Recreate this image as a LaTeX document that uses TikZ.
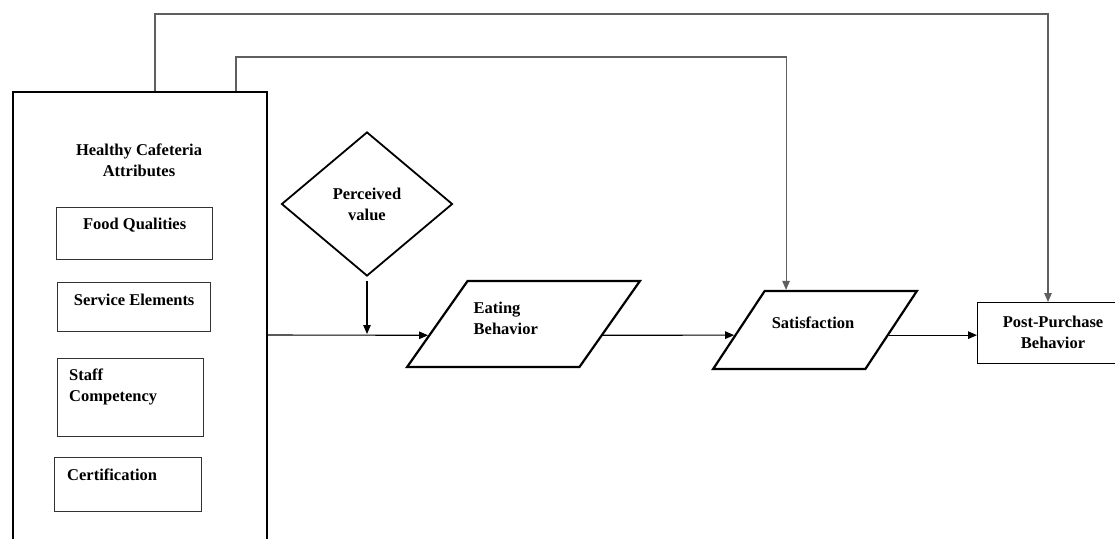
\documentclass[tikz,border=0pt]{standalone}
\usepackage{fontspec}
\setmainfont{Liberation Serif}
\usepackage{tikz}
\definecolor{framegray}{RGB}{51, 51, 51}
\definecolor{feedgray}{RGB}{95, 95, 95}
\usetikzlibrary{shapes.geometric, arrows.meta, calc}

\begin{document}
\begin{tikzpicture}[
    x=1pt, y=-1pt,
    font=\fontsize{16.5}{21}\selectfont\bfseries,
    bigbox/.style={rectangle, draw=black, line width=2.2pt, inner sep=0pt, anchor=north west},
    attrbox/.style={rectangle, draw=framegray, line width=1.3pt, inner sep=0pt, anchor=north west},
    txt/.style={inner sep=0pt, align=center},
    value/.style={diamond, draw=black, line width=1.8pt, minimum width=171pt,
                  minimum height=144pt, inner sep=0pt, align=center},
    para/.style={trapezium, trapezium stretches=true, draw=black, line width=2.2pt, inner sep=4pt},
    outbox/.style={rectangle, draw=black, line width=1.3pt, inner sep=0pt, anchor=north west},
    arrow/.style={-{Triangle[length=9pt, width=7.5pt]}, line width=1.1pt, black},
    feed/.style={arrow, draw=feedgray}
]
    \useasboundingbox (0,0) rectangle (1115,538);

    % Attributes
    \node[bigbox, minimum width=254, minimum height=480] (hca) at (12,91) {};
    \node[txt] (hca-title) at (139,160) {Healthy Cafeteria\\Attributes};
    \node[attrbox, minimum width=156, minimum height=52] (food) at (56,207) {};
    \node[attrbox, minimum width=153, minimum height=49] (service) at (57,282) {};
    \node[attrbox, minimum width=146, minimum height=78] (staff) at (57,358) {};
    \node[attrbox, minimum width=147, minimum height=54] (cert) at (54,457) {};
    \node[txt] (food-txt) at ([yshift=-18]food.north) {Food Qualities};
    \node[txt] (service-txt) at ([yshift=-18]service.north) {Service Elements};
    \node[txt, align=left, anchor=west] (staff-txt) at ([xshift=12, yshift=-29]staff.north west) {Staff\\Competency};
    \node[txt, anchor=west] (cert-txt) at ([xshift=13, yshift=-18]cert.north west) {Certification};

    % Flow
    \node[value] (pv) at (367,204) {Perceived\\value};
    \node[para, trapezium left angle=61.6, trapezium right angle=118.4,
          minimum width=233, minimum height=86] (eating) at (523.5,324) {};
    \node[txt, align=left, anchor=west] (eating-txt) at ([xshift=-50, yshift=6]eating.center) {Eating\\Behavior};
    \node[para, trapezium left angle=62.9, trapezium right angle=117.1,
          minimum width=204, minimum height=78] (sat) at (815,330) {};
    \node[txt] (sat-txt) at ([xshift=-2, yshift=7]sat.center) {Satisfaction};
    \node[outbox, minimum width=300, minimum height=61] (post) at (977,302) {};
    \node[txt] (post-txt) at ([xshift=76, yshift=1]post.west) {Post-Purchase\\Behavior};

    % Arrows
    \coordinate (join) at (367,335);
    \coordinate (eat-in) at ($(eating.bottom left corner)!0.372!(eating.top left corner)$);
    \coordinate (eat-out) at ($(eating.bottom right corner)!0.372!(eating.top right corner)$);
    \coordinate (sat-in) at ($(sat.bottom left corner)!0.436!(sat.top left corner)$);
    \coordinate (sat-out) at ($(sat.bottom right corner)!0.436!(sat.top right corner)$);
    \draw[arrow] (join -| hca.east) -- (eat-in);
    \draw[arrow, shorten <=4pt, shorten >=1pt] (pv.south) -- (pv.south |- join);
    \draw[arrow] (eat-out) -- (sat-in);
    \draw[arrow] (sat-out) -- (sat-out -| post.west);

    % Direct links
    \coordinate (outer) at (155,14);
    \coordinate (inner) at (236,57);
    \draw[feed] (outer |- hca.north) -- (outer) -| (1048,0 |- post.north);
    \draw[feed] (inner |- hca.north) -- (inner) -| ([xshift=22]sat.top left corner);
\end{tikzpicture}
\end{document}
